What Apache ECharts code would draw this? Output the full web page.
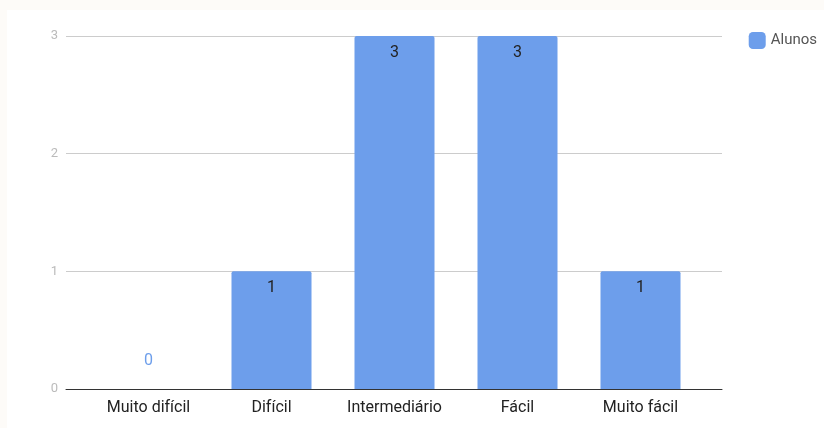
<!DOCTYPE html>
<html>
<head>
<meta charset="utf-8">
<script src="https://cdn.jsdelivr.net/npm/echarts@6/dist/echarts.min.js"></script>
<style>
  html, body { margin: 0; padding: 0; background: #fdfbf8; }
  #chart { position: absolute; left: 7px; top: 10px; width: 817px; height: 418px; background: #ffffff; }
</style>
</head>
<body>
<div id="chart"></div>
<script>
// data
const categories = ['Muito difícil', 'Difícil', 'Intermediário', 'Fácil', 'Muito fácil'];
const alunos = [0, 1, 3, 3, 1];
const yTicks = [0, 1, 2, 3];

const BAR_COLOR = '#6d9eeb';

const chart = echarts.init(document.getElementById('chart'));

const seriesData = alunos.map((v) => {
    // Google-style: zero values get their label above the baseline in the bar colour
    if (v === 0) {
        return { value: v, label: { position: 'top', distance: 20, color: BAR_COLOR } };
    }
    return v;
});

chart.setOption({
    backgroundColor: '#ffffff',
    animation: false,
    textStyle: { fontFamily: 'Roboto, Arial, sans-serif' },
    legend: {
        right: 2,
        top: 17,
        itemWidth: 17,
        itemHeight: 17,
        itemGap: 10,
        icon: 'roundRect',
        textStyle: { color: '#555', fontSize: 15, fontFamily: 'Roboto, Arial, sans-serif' },
        data: ['Alunos'],
    },
    grid: [
        // background grid: gridlines and baseline, a bit wider than the bars
        { left: 59, right: 102, top: 26, bottom: 39 },
        // bars grid
        { left: 80, right: 122, top: 26, bottom: 39 },
    ],
    xAxis: [
        {
            gridIndex: 0,
            type: 'value',
            min: 0,
            max: 1,
            axisLabel: { show: false },
            axisTick: { show: false },
            splitLine: { show: false },
            axisLine: { show: true, onZero: false, lineStyle: { color: '#333', width: 1 } },
        },
        {
            gridIndex: 1,
            type: 'category',
            data: categories,
            axisLine: { show: false },
            axisTick: { show: false },
            axisLabel: { color: '#222', fontSize: 16, margin: 11, interval: 0, hideOverlap: false },
        },
    ],
    yAxis: [
        {
            gridIndex: 0,
            type: 'value',
            min: yTicks[0],
            max: yTicks[yTicks.length - 1],
            interval: 1,
            axisLine: { show: false },
            axisTick: { show: false },
            axisLabel: { color: '#bbb', fontSize: 13, margin: 8 },
            splitLine: { lineStyle: { color: '#ccc', width: 1 } },
        },
        {
            gridIndex: 1,
            type: 'value',
            min: yTicks[0],
            max: yTicks[yTicks.length - 1],
            show: false,
        },
    ],
    series: [
        {
            name: 'Alunos',
            type: 'bar',
            xAxisIndex: 1,
            yAxisIndex: 1,
            barWidth: 80,
            data: seriesData,
            itemStyle: { color: BAR_COLOR, borderRadius: [2, 2, 0, 0] },
            label: {
                show: true,
                position: 'insideTop',
                distance: 9,
                color: '#222',
                fontSize: 16,
            },
        },
    ],
});
</script>
</body>
</html>
